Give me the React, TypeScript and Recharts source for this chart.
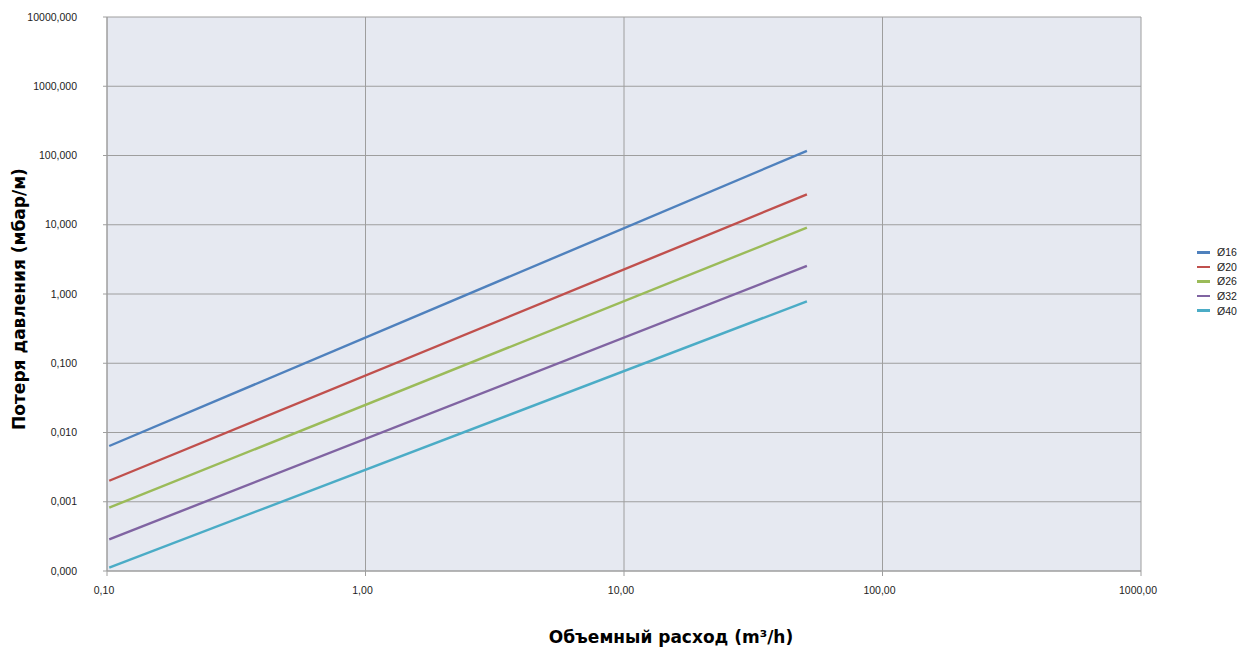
import { LineChart, Line, XAxis, YAxis, CartesianGrid, Legend, Label } from 'recharts'

// flow range (m3/h) shared by all pipe sizes
const flowRange = [0.102, 51]

// pressure loss (mbar/m) at the two ends of the flow range
const loss16 = [0.00638, 117]
const loss20 = [0.00201, 27.5]
const loss26 = [0.00082, 9.06]
const loss32 = [0.000287, 2.54]
const loss40 = [0.000112, 0.785]

const xTicks = [0.1, 1, 10, 100, 1000]
const yTicks = [0.0001, 0.001, 0.01, 0.1, 1, 10, 100, 1000, 10000]

const SERIES = [
  { name: 'Ø16', values: loss16, color: '#4F81BD' },
  { name: 'Ø20', values: loss20, color: '#C0504D' },
  { name: 'Ø26', values: loss26, color: '#9BBB59' },
  { name: 'Ø32', values: loss32, color: '#8064A2' },
  { name: 'Ø40', values: loss40, color: '#4BACC6' },
]

const toRows = (values: number[]) => flowRange.map((q, i) => ({ q, dp: values[i] }))

const TICK_FONT = { fontSize: 10.5, fontFamily: 'Liberation Sans, Arial, sans-serif', fill: '#222' }
const TITLE_FONT = 'DejaVu Sans, sans-serif'

function LegendBox({ payload }: any) {
  return (
    <div style={{ fontFamily: 'Liberation Sans, Arial, sans-serif', fontSize: 10.5, color: '#222' }}>
      {(payload || []).map((p: any) => (
        <div key={p.value} style={{ height: 14.6, display: 'flex', alignItems: 'center' }}>
          <span style={{ display: 'inline-block', width: 13, height: 2.5, background: p.color, marginRight: 7 }} />
          <span>{p.value}</span>
        </div>
      ))}
    </div>
  )
}

export default function App() {
  return (
    <div style={{ position: 'absolute', left: 0, top: 0 }}>
      <LineChart width={1241} height={648} margin={{ top: 17, right: 100, left: 0, bottom: 0 }}>
        <CartesianGrid stroke="#9E9E9E" strokeWidth={1} fill="#E6E9F1" fillOpacity={1} />
        <XAxis
          dataKey="q"
          type="number"
          scale="log"
          domain={[0.1, 1000]}
          ticks={xTicks}
          allowDataOverflow
          height={77}
          tickSize={5}
          tickMargin={11}
          tick={{ ...TICK_FONT, dx: -3 }}
          stroke="#9E9E9E"
          tickFormatter={(v: number) => v.toFixed(2).replace('.', ',')}
        >
          <Label
            content={() => (
              <text x={671} y={643} textAnchor="middle" fontFamily={TITLE_FONT} fontWeight="bold" fontSize={17} fill="#000">
                Объемный расход (m³/h)
              </text>
            )}
          />
        </XAxis>
        <YAxis
          type="number"
          scale="log"
          domain={[0.0001, 10000]}
          ticks={yTicks}
          allowDataOverflow
          width={107}
          tickSize={4}
          tickMargin={26}
          tick={TICK_FONT}
          stroke="#9E9E9E"
          tickFormatter={(v: number) => v.toFixed(3).replace('.', ',')}
        >
          <Label
            content={() => (
              <text
                x={19}
                y={299}
                transform="rotate(-90 19 299)"
                textAnchor="middle"
                dominantBaseline="central"
                fontFamily={TITLE_FONT}
                fontWeight="bold"
                fontSize={17}
                fill="#000"
              >
                Потеря давления (мбар/м)
              </text>
            )}
          />
        </YAxis>
        <Legend
          layout="vertical"
          align="center"
          verticalAlign="middle"
          content={LegendBox}
          wrapperStyle={{ left: 1197, top: 245, width: 44 }}
        />
        {SERIES.map((s) => (
          <Line
            key={s.name}
            name={s.name}
            data={toRows(s.values)}
            dataKey="dp"
            stroke={s.color}
            strokeWidth={2.4}
            dot={false}
            activeDot={false}
            isAnimationActive={false}
          />
        ))}
      </LineChart>
    </div>
  )
}
